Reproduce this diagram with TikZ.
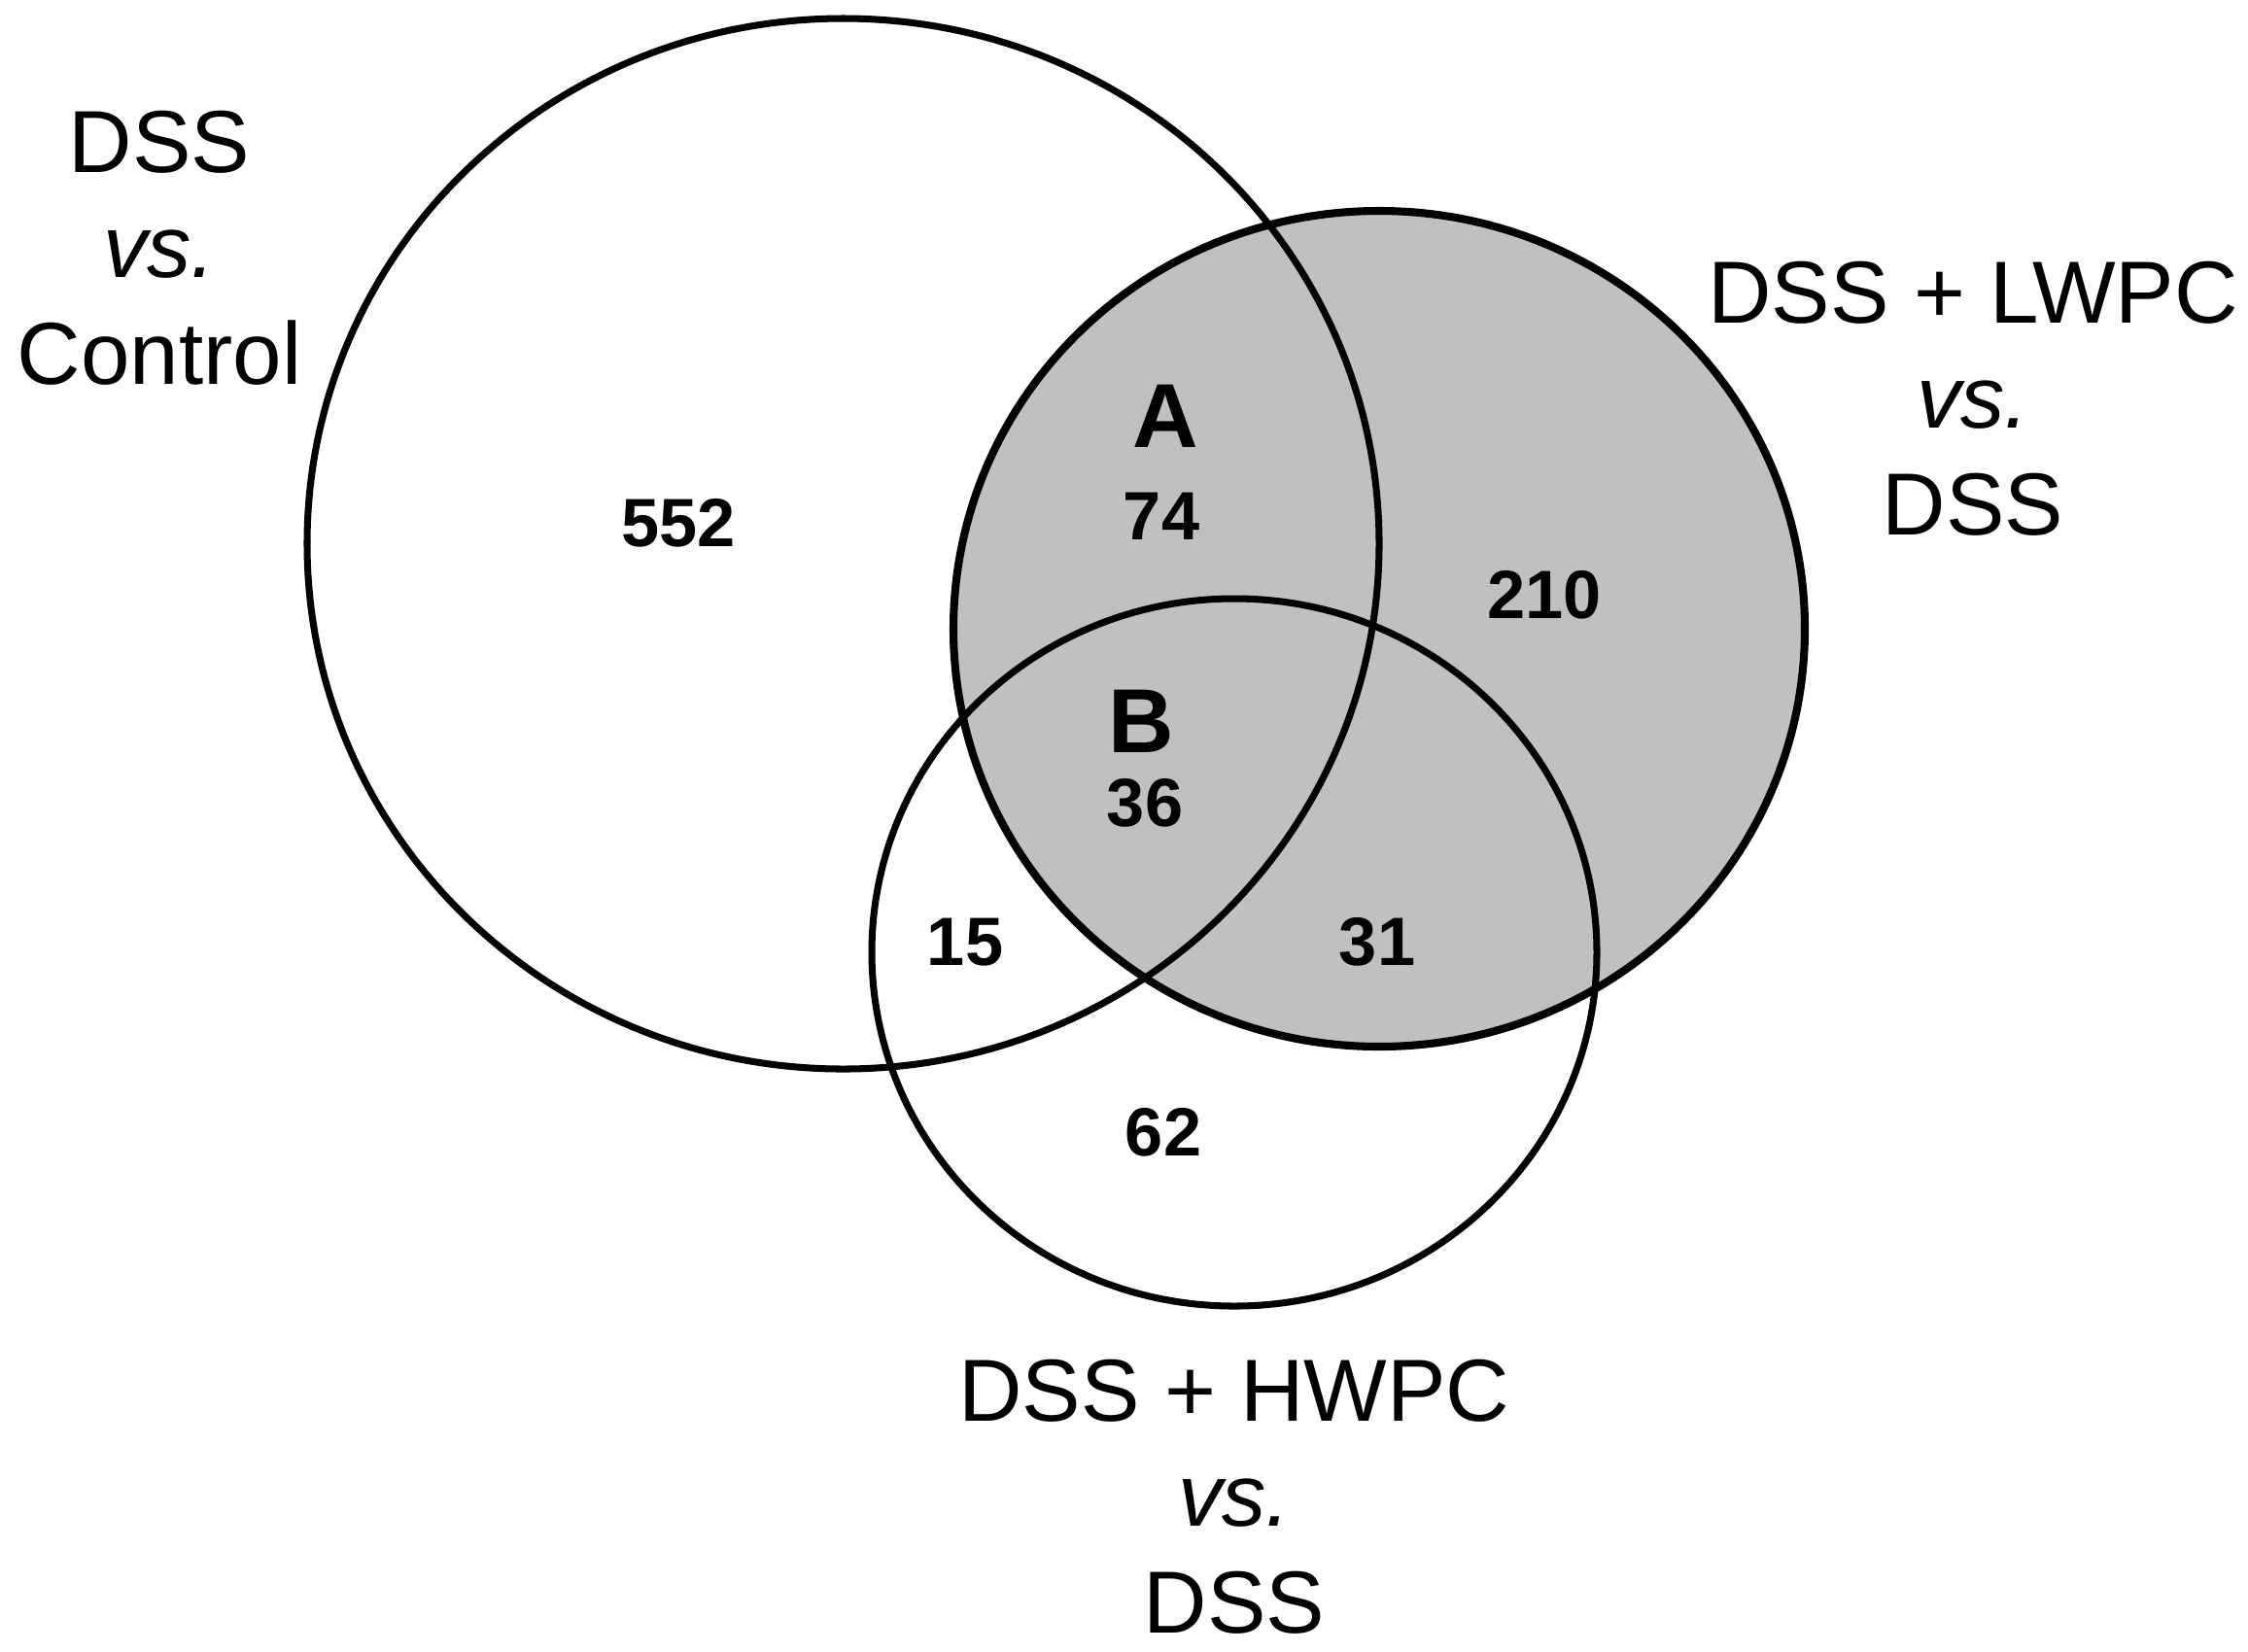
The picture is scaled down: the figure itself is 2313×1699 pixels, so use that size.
\documentclass[tikz,border=0pt]{standalone}
\usepackage{fontspec}
\setmainfont{Liberation Sans}
\definecolor{vennGray}{RGB}{192,192,192}
\tikzset{
  outline/.style={draw=black, line width=2pt},
  lbl/.style={anchor=base, inner sep=0pt, font=\fontsize{25.8}{31}\selectfont},
  lblit/.style={lbl, font=\fontsize{25.8}{31}\selectfont\itshape},
  num/.style={anchor=base, inner sep=0pt, text height=14.5pt, text depth=0pt, font=\fontsize{20}{24}\selectfont\bfseries},
  letter/.style={anchor=base, inner sep=0pt, text height=19.2pt, text depth=0pt, font=\fontsize{26.6}{30}\selectfont\bfseries}
}
\begin{document}
\begin{tikzpicture}[x=0.01cm, y=-0.01cm]
\useasboundingbox (0,0) rectangle (2313,1699);
% shaded LWPC set
\fill[vennGray] (1419,647) ellipse [x radius=438, y radius=430];
% outlines
\draw[outline] (867.5,559.5) ellipse [x radius=551.5, y radius=540.5];
\draw[outline, line width=2.3pt] (1419,647) ellipse [x radius=438, y radius=430];
\draw[outline] (1270,980) ellipse [x radius=373, y radius=364];
% set labels
\node[lbl]   (l1a) at (164,177) {DSS};
\node[lblit] (l1b) at (164,285) {vs.};
\node[lbl]   (l1c) at (164,395) {Control};
\node[lbl]   (l2a) at (2030,332) {DSS + LWPC};
\node[lblit] (l2b) at (2030,440) {vs.};
\node[lbl]   (l2c) at (2030,550) {DSS};
\node[lbl]   (l3a) at (1270,1462) {DSS + HWPC};
\node[lblit] (l3b) at (1270,1570) {vs.};
\node[lbl]   (l3c) at (1270,1680) {DSS};
% counts
\node[num] (n552) at (698,562) {552};
\node[letter] (lA) at (1199,460) {A};
\node[num] (n74) at (1195,555) {74};
\node[num] (n210) at (1589,636) {210};
\node[letter] (lB) at (1174,774) {B};
\node[num] (n36) at (1178,850) {36};
\node[num] (n15) at (993,993) {15};
\node[num] (n31) at (1417,993) {31};
\node[num] (n62) at (1197,1189) {62};
\end{tikzpicture}
\end{document}
